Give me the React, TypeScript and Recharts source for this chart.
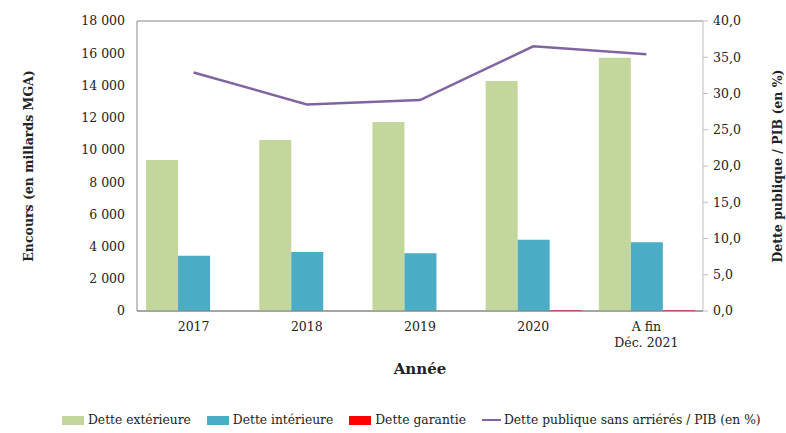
import React from "react"
import {
  ComposedChart,
  Bar,
  Line,
  XAxis,
  YAxis,
  CartesianGrid,
  Legend,
} from "recharts"

// Données
const years = ["2017", "2018", "2019", "2020", "A fin\nDéc. 2021"]
const detteExterieure = [9380, 10610, 11730, 14280, 15720]
const detteInterieure = [3430, 3660, 3580, 4430, 4260]
const detteGarantie = [0, 0, 0, 45, 45]
const dettePib = [32.9, 28.5, 29.1, 36.5, 35.4]

const leftTicks = [0, 2000, 4000, 6000, 8000, 10000, 12000, 14000, 16000, 18000]
const rightTicks = [0, 5, 10, 15, 20, 25, 30, 35, 40]

const data = years.map((y, i) => ({
  year: y,
  ext: detteExterieure[i],
  int: detteInterieure[i],
  gar: detteGarantie[i],
  pib: dettePib[i],
}))

const FONT = "'DejaVu Serif', serif"
const TEXT = "#222"

const fmtLeft = (v: number) => (v === 0 ? "0" : v.toLocaleString("fr-FR").replace(/\s/g, " "))
const fmtRight = (v: number) => v.toFixed(1).replace(".", ",")

function YearTick({ x, y, payload }: any) {
  const lines = String(payload.value).split("\n")
  return (
    <text x={x} y={y} textAnchor="middle" fill={TEXT} fontSize={12.5} fontFamily={FONT}>
      {lines.map((l, i) => (
        <tspan key={i} x={x} dy={i === 0 ? 12 : 16}>
          {l}
        </tspan>
      ))}
    </text>
  )
}

const legendItems = [
  { label: "Dette extérieure", color: "#c3d69b", type: "rect" },
  { label: "Dette intérieure", color: "#4bacc6", type: "rect" },
  { label: "Dette garantie", color: "#ff0000", type: "rect" },
  { label: "Dette publique sans arriérés / PIB (en %)", color: "#8064a2", type: "line" },
]

function ChartLegend() {
  return (
    <div style={{ display: "flex", alignItems: "center", fontFamily: FONT, fontSize: 12.3, color: TEXT }}>
      {legendItems.map((it) => (
        <div key={it.label} style={{ display: "flex", alignItems: "center", marginRight: 16 }}>
          {it.type === "rect" ? (
            <span style={{ width: 22, height: 9, background: it.color, marginRight: 4, display: "inline-block" }} />
          ) : (
            <span style={{ width: 19, height: 2.5, background: it.color, marginRight: 3, display: "inline-block" }} />
          )}
          <span>{it.label}</span>
        </div>
      ))}
    </div>
  )
}

export default function App() {
  return (
    <div style={{ position: "absolute", left: 0, top: 0, width: 786, height: 433, background: "#fff" }}>
      <ComposedChart
        width={786}
        height={433}
        data={data}
        margin={{ top: 21, right: 0, left: 0, bottom: 54 }}
        barCategoryGap="8%"
        barGap={0}
      >
        <CartesianGrid vertical={false} stroke="#868686" strokeWidth={1} />
        <XAxis
          dataKey="year"
          height={68}
          tick={<YearTick />}
          tickLine={false}
          axisLine={{ stroke: "#868686" }}
          interval={0}
          label={{
            value: "Année",
            position: "insideBottom",
            offset: 5,
            style: { fontFamily: FONT, fontSize: 15, fontWeight: "bold", fill: TEXT },
          }}
        />
        <YAxis
          yAxisId="left"
          width={137}
          domain={[0, 18000]}
          ticks={leftTicks}
          tickFormatter={fmtLeft}
          tickSize={0}
          tickMargin={12}
          tickLine={false}
          axisLine={{ stroke: "#868686" }}
          tick={{ fontSize: 12.5, fontFamily: FONT, fill: TEXT }}
          interval={0}
          label={{
            value: "Encours (en millards MGA)",
            angle: -90,
            position: "insideLeft",
            offset: 29,
            style: { textAnchor: "middle", fontFamily: FONT, fontSize: 12.5, fontWeight: "bold", fill: TEXT },
          }}
        />
        <YAxis
          yAxisId="right"
          orientation="right"
          width={83}
          domain={[0, 40]}
          ticks={rightTicks}
          tickFormatter={fmtRight}
          tickSize={5}
          tickMargin={5}
          tickLine={{ stroke: "#bfbfbf" }}
          axisLine={{ stroke: "#bfbfbf" }}
          tick={{ fontSize: 12.5, fontFamily: FONT, fill: TEXT }}
          interval={0}
          label={{
            value: "Dette publique / PIB (en %)",
            angle: -90,
            position: "insideRight",
            offset: 8,
            style: { textAnchor: "middle", fontFamily: FONT, fontSize: 12.5, fontWeight: "bold", fill: TEXT },
          }}
        />
        <Legend
          layout="horizontal"
          align="center"
          verticalAlign="middle"
          content={<ChartLegend />}
          wrapperStyle={{ top: 413, left: 62, width: 720 }}
        />
        <Bar yAxisId="left" dataKey="ext" name="Dette extérieure" fill="#c3d69b" isAnimationActive={false} />
        <Bar yAxisId="left" dataKey="int" name="Dette intérieure" fill="#4bacc6" isAnimationActive={false} />
        <Bar yAxisId="left" dataKey="gar" name="Dette garantie" fill="#ff0000" isAnimationActive={false} />
        <Line
          yAxisId="right"
          type="linear"
          dataKey="pib"
          name="Dette publique sans arriérés / PIB (en %)"
          stroke="#8064a2"
          strokeWidth={2.5}
          dot={false}
          activeDot={false}
          isAnimationActive={false}
        />
      </ComposedChart>
    </div>
  )
}
